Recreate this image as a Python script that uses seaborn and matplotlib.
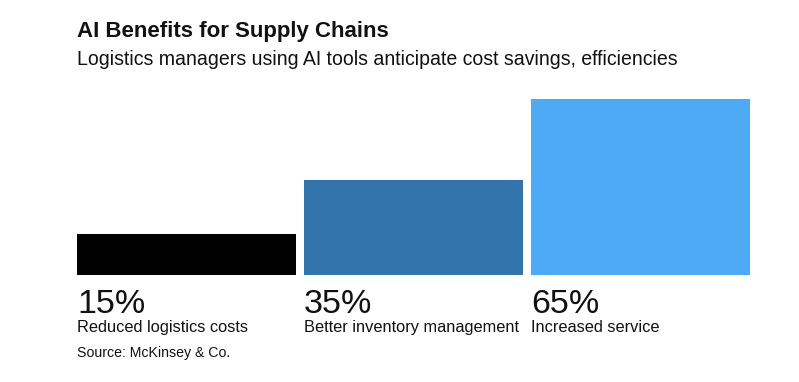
import matplotlib
matplotlib.use("Agg")
import matplotlib.pyplot as plt
import seaborn as sns
import pandas as pd

categories = ["Reduced logistics costs", "Better inventory management", "Increased service"]
values = [15, 35, 65]
bar_colors = ["#000000", "#3274ab", "#4eaaf5"]

title = "AI Benefits for Supply Chains"
subtitle = "Logistics managers using AI tools anticipate cost savings, efficiencies"
source = "Source: McKinsey & Co."

W, H = 799, 382
sns.set_theme(style="white")
plt.rcParams["font.family"] = ["Liberation Sans", "DejaVu Sans"]

df = pd.DataFrame({"label": categories, "value": values})

fig = plt.figure(figsize=(W / 100, H / 100), dpi=100)
ax = fig.add_axes([77 / W, 1 - 275 / H, (750 - 77) / W, (275 - 99) / H])

bw = 0.963
sns.barplot(data=df, x="label", y="value", hue="label", palette=bar_colors,
            width=bw, legend=False, ax=ax, saturation=1, linewidth=0)
ax.set_xlim(-bw / 2, len(categories) - 1 + bw / 2)
ax.set_ylim(0, max(values))
ax.axis("off")


def fy(px):
    return 1 - px / H


# percent and label under each bar
for i, (cat, v) in enumerate(zip(categories, values)):
    left = i - bw / 2
    ax.annotate(f"{v}%", xy=(left, 0), xycoords=("data", "axes fraction"),
                xytext=(0, -(313 - 275)), textcoords="offset pixels",
                ha="left", va="baseline", fontsize=24.5, color="#111111")
    ax.annotate(cat, xy=(left, 0), xycoords=("data", "axes fraction"),
                xytext=(0, -(332 - 275)), textcoords="offset pixels",
                ha="left", va="baseline", fontsize=11.8, color="#111111")

fig.text(77 / W, fy(37), title, fontsize=16, fontweight="bold", color="#111111",
         ha="left", va="baseline")
fig.text(77 / W, fy(65), subtitle, fontsize=14.05, color="#111111",
         ha="left", va="baseline")
fig.text(77 / W, fy(357), source, fontsize=10.2, color="#111111",
         ha="left", va="baseline")

fig.savefig("out.png", dpi=100, facecolor="white")
